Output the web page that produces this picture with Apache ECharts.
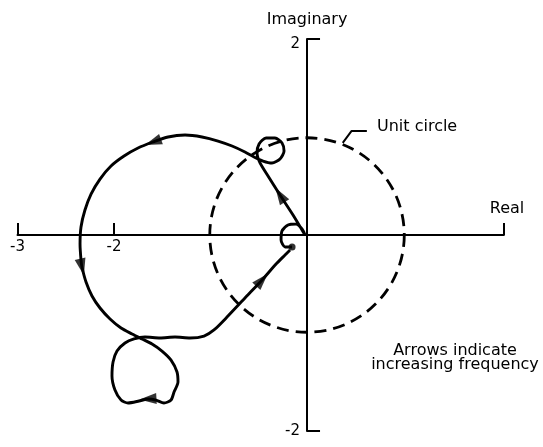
<!DOCTYPE html>
<html>
<head>
<meta charset="utf-8">
<script src="https://cdn.jsdelivr.net/npm/echarts@6/dist/echarts.min.js"></script>
<style>
  html, body { margin: 0; padding: 0; background: #fff; }
  #chart { width: 543px; height: 447px; }
</style>
</head>
<body>
<div id="chart"></div>
<script>
// Nyquist locus: real and imaginary parts, in order of increasing frequency
const curveRe = [
  -0.155, -0.228, -0.269, -0.259, -0.197, -0.114, -0.052, -0.021,
  -0.145, -0.280, -0.404, -0.487,
  -0.518, -0.497, -0.425, -0.332, -0.259, -0.238, -0.280, -0.363, -0.456, -0.549,
  -0.643, -0.777, -0.922, -1.088, -1.264, -1.440, -1.596, -1.751, -1.896, -2.031,
  -2.145, -2.238, -2.301, -2.342, -2.352, -2.342, -2.332, -2.290, -2.228, -2.145,
  -2.041, -1.927, -1.813, -1.710,
  -1.606, -1.503, -1.409, -1.347, -1.337, -1.378, -1.409, -1.482, -1.565, -1.648,
  -1.741, -1.855, -1.927, -1.990, -2.021, -2.010, -1.969, -1.886, -1.793, -1.679,
  -1.523, -1.368, -1.212, -1.067, -0.964,
  -0.819, -0.643, -0.466, -0.321, -0.228, -0.176
];
const curveIm = [
  -0.122, -0.122, -0.051, 0.041, 0.102, 0.112, 0.061, 0.000,
  0.204, 0.408, 0.602, 0.735,
  0.837, 0.929, 0.990, 0.990, 0.939, 0.857, 0.776, 0.735, 0.755, 0.796,
  0.847, 0.908, 0.959, 1.000, 1.020, 1.000, 0.949, 0.888, 0.806, 0.704,
  0.571, 0.418, 0.255, 0.082, -0.092, -0.255, -0.327, -0.480, -0.622, -0.745,
  -0.857, -0.949, -1.010, -1.061,
  -1.112, -1.184, -1.276, -1.398, -1.500, -1.602, -1.684, -1.714, -1.684, -1.673,
  -1.694, -1.714, -1.684, -1.582, -1.439, -1.296, -1.184, -1.102, -1.061, -1.041,
  -1.051, -1.041, -1.051, -1.031, -0.969,
  -0.827, -0.643, -0.459, -0.296, -0.204, -0.153
];
// positions along the locus that carry a direction arrow
const arrowAt = [9, 28, 38, 55, 73];

// unit circle: centre and radius
const unitCircle = [[0, 0, 1]];
// leader from the circle to its label
const leaderRe = [0.37, 0.46, 0.62];
const leaderIm = [0.94, 1.06, 1.06];

// axis extents and labelled ticks
const realMin = -3, realMax = 2.04;
const imagMin = -2, imagMax = 2;
const realTickLabels = [-3, -2];
const realTicks = [-3, -2, 2.04];
const imagTickLabels = [-2, 2];

const FONT = '"DejaVu Sans", sans-serif';
const INK = '#000';

// plotting area
const GRID = { left: 17.5, right: 39.1, top: 39, bottom: 16 };
const gridW = 543 - GRID.left - GRID.right;
const gridH = 447 - GRID.top - GRID.bottom;
// the axes cross at the origin: shift each axis from the grid edge to zero
const xAxisShift = -(0 - imagMin) / (imagMax - imagMin) * gridH;
const yAxisShift = -(0 - realMin) / (realMax - realMin) * gridW;

const curve = curveRe.map((re, i) => [re, curveIm[i]]);

// arrow heading follows the locus through its neighbours (x/y unit ratio applied)
const pxPerRe = gridW / (realMax - realMin), pxPerIm = gridH / (imagMax - imagMin);
const arrows = arrowAt.map(i => {
  const a = curve[i - 1], b = curve[i + 1];
  const ang = Math.atan2((b[1] - a[1]) * pxPerIm, (b[0] - a[0]) * pxPerRe) * 180 / Math.PI;
  return { value: curve[i], symbolRotate: ang };
});

const chart = echarts.init(document.getElementById('chart'), null, { renderer: 'canvas' });

chart.setOption({
  animation: false,
  backgroundColor: '#fff',
  grid: Object.assign({ containLabel: false, outerBoundsMode: 'none' }, GRID),
  xAxis: {
    type: 'value',
    position: 'bottom',
    offset: xAxisShift,
    min: realMin, max: realMax,
    splitLine: { show: false },
    axisLine: { onZero: false, lineStyle: { color: INK, width: 2 } },
    axisTick: { show: true, inside: true, length: 12, customValues: realTicks,
                lineStyle: { color: INK, width: 2 } },
    axisLabel: { customValues: realTickLabels, margin: 5, color: INK,
                 fontSize: 15, fontFamily: FONT }
  },
  yAxis: {
    type: 'value',
    position: 'left',
    offset: yAxisShift,
    min: imagMin, max: imagMax,
    name: 'Imaginary',
    nameLocation: 'end',
    nameGap: 11,
    nameTextStyle: { color: INK, fontSize: 16, fontFamily: FONT },
    splitLine: { show: false },
    axisLine: { onZero: false, lineStyle: { color: INK, width: 2 } },
    axisTick: { show: true, inside: true, length: 13, customValues: imagTickLabels,
                lineStyle: { color: INK, width: 2 } },
    axisLabel: {
      customValues: imagTickLabels, margin: 7, color: INK,
      fontSize: 15, fontFamily: FONT,
      formatter: v => (v > 0 ? '{hi|' + v + '}' : String(v)),
      rich: { hi: { fontSize: 15, fontFamily: FONT, color: INK, padding: [10, 0, 0, 0] } }
    }
  },
  series: [
    {
      type: 'custom',
      name: 'Unit circle',
      data: unitCircle,
      silent: true,
      renderItem: function (params, api) {
        const c = api.coord([api.value(0), api.value(1)]);
        const rx = api.size([api.value(2), 0])[0];
        const ry = api.size([0, api.value(2)])[1];
        return {
          type: 'circle',
          shape: { cx: c[0], cy: c[1], r: (rx + ry) / 2 },
          style: { fill: 'none', stroke: INK, lineWidth: 2.8, lineDash: [12, 7] }
        };
      },
      z: 1
    },
    {
      type: 'line',
      data: leaderRe.map((re, i) => [re, leaderIm[i]]),
      showSymbol: false,
      lineStyle: { color: INK, width: 2 },
      z: 2
    },
    {
      type: 'line',
      data: curve,
      showSymbol: false,
      smooth: 0.25,
      lineStyle: { color: INK, width: 2.9 },
      z: 3
    },
    {
      type: 'scatter',
      data: arrows,
      symbol: 'path://M0,0L12,5L0,10Z',
      symbolSize: [17, 11],
      itemStyle: { color: INK },
      z: 4
    },
    {
      type: 'scatter',
      data: [curve[0]],
      symbol: 'circle',
      symbolSize: 7,
      itemStyle: { color: INK },
      z: 4
    }
  ],
  graphic: [
    { type: 'text', x: 507, y: 209,
      style: { text: 'Real', fill: INK, font: '16px ' + FONT, textAlign: 'center', textVerticalAlign: 'middle' } },
    { type: 'text', x: 377, y: 127,
      style: { text: 'Unit circle', fill: INK, font: '16px ' + FONT, textAlign: 'left', textVerticalAlign: 'middle' } },
    { type: 'text', x: 455, y: 351,
      style: { text: 'Arrows indicate', fill: INK, font: '16px ' + FONT, textAlign: 'center', textVerticalAlign: 'middle' } },
    { type: 'text', x: 455, y: 365,
      style: { text: 'increasing frequency', fill: INK, font: '16px ' + FONT, textAlign: 'center', textVerticalAlign: 'middle' } }
  ]
});
</script>
</body>
</html>
